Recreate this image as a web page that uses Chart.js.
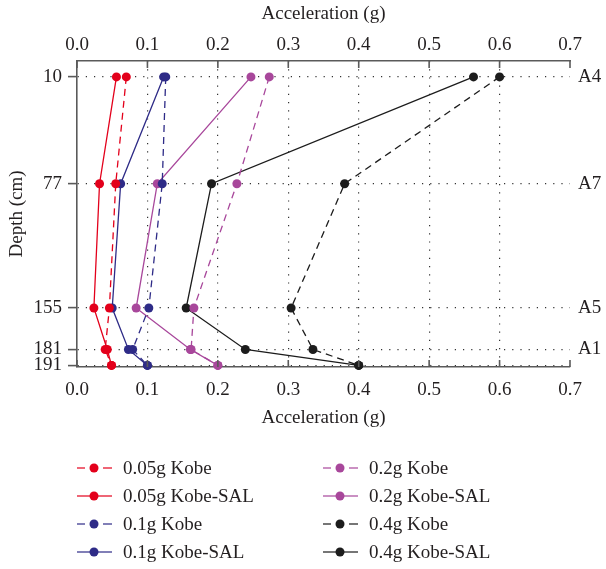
<!DOCTYPE html>
<html>
<head>
<meta charset="utf-8">
<script src="https://cdn.jsdelivr.net/npm/chart.js@4/dist/chart.umd.min.js"></script>
<style>
  html, body { margin: 0; padding: 0; background: #fff; }
  #wrap { width: 606px; height: 569px; }
</style>
</head>
<body>
<div id="wrap"><canvas id="myChart" width="606" height="569"></canvas></div>
<script>
const ctx = document.getElementById('myChart');

// depth of each accelerometer (cm) and the sensor names on the right
const depths = [10, 77, 155, 181, 191];
const sensorDepths = [10, 77, 155, 181];
const sensorNames = ['A4', 'A7', 'A5', 'A1'];
const accTicks = [0, 0.1, 0.2, 0.3, 0.4, 0.5, 0.6, 0.7];

// peak acceleration (g) at each depth
const kobe005 = [0.070, 0.055, 0.046, 0.040, 0.049];
const sal005 = [0.056, 0.032, 0.024, 0.043, 0.049];
const kobe01 = [0.126, 0.121, 0.102, 0.079, 0.100];
const sal01 = [0.123, 0.062, 0.050, 0.073, 0.100];
const kobe02 = [0.273, 0.227, 0.166, 0.162, 0.200];
const sal02 = [0.247, 0.114, 0.084, 0.161, 0.200];
const kobe04 = [0.600, 0.380, 0.304, 0.335, 0.400];
const sal04 = [0.563, 0.191, 0.155, 0.239, 0.400];

const RED = '#e3001b';
const BLUE = '#2e2b87';
const PURPLE = '#a8479b';
const BLACK = '#1c1c1c';
const DASH = [7, 5];
const FONT = "'Liberation Serif', 'DejaVu Serif', serif";
const SIZE = 19;
const AXIS = '#5a5a5a';
const TEXT = '#231f20';

function series(label, values, color, dashed) {
  return {
    label: label,
    data: values.map((v, i) => ({ x: v, y: depths[i] })),
    showLine: true,
    borderColor: color,
    backgroundColor: color,
    borderWidth: 1.3,
    borderDash: dashed ? DASH : [],
    pointRadius: 4.5,
    pointBorderWidth: 0,
    pointBackgroundColor: color,
    clip: false
  };
}

const datasets = [
  series('0.05g Kobe', kobe005, RED, true),
  series('0.05g Kobe-SAL', sal005, RED, false),
  series('0.1g Kobe', kobe01, BLUE, true),
  series('0.1g Kobe-SAL', sal01, BLUE, false),
  series('0.2g Kobe', kobe02, PURPLE, true),
  series('0.2g Kobe-SAL', sal02, PURPLE, false),
  series('0.4g Kobe', kobe04, BLACK, true),
  series('0.4g Kobe-SAL', sal04, BLACK, false)
];

// x ticks point into the plot on both top and bottom axes
const innerTicks = {
  id: 'innerTicks',
  afterDraw(chart) {
    const c = chart.ctx;
    const area = chart.chartArea;
    c.save();
    c.strokeStyle = AXIS;
    c.lineWidth = 1.6;
    accTicks.forEach(v => {
      const px = chart.scales.x.getPixelForValue(v);
      c.beginPath();
      c.moveTo(px, area.bottom);
      c.lineTo(px, area.bottom - 7);
      c.moveTo(px, area.top);
      c.lineTo(px, area.top + 7);
      c.stroke();
    });
    c.restore();
  }
};

// two-column legend under the axes
const columnLegend = {
  id: 'columnLegend',
  afterDraw(chart) {
    const c = chart.ctx;
    const cols = [77, 323];
    const rows = [468, 496, 524, 552];
    c.save();
    c.font = SIZE + 'px ' + FONT;
    c.textBaseline = 'middle';
    c.textAlign = 'left';
    chart.data.datasets.forEach((ds, i) => {
      const x0 = cols[Math.floor(i / 4)];
      const y = rows[i % 4];
      const dashed = ds.borderDash.length > 0;
      c.strokeStyle = ds.borderColor;
      c.lineWidth = 1.6;
      c.globalAlpha = 0.8;
      c.beginPath();
      if (dashed) {
        c.moveTo(x0, y); c.lineTo(x0 + 8, y);
        c.moveTo(x0 + 26, y); c.lineTo(x0 + 35, y);
      } else {
        c.moveTo(x0, y); c.lineTo(x0 + 35, y);
      }
      c.stroke();
      c.globalAlpha = 1;
      c.fillStyle = ds.pointBackgroundColor;
      c.beginPath();
      c.arc(x0 + 17, y, 4.5, 0, Math.PI * 2);
      c.fill();
      c.fillStyle = TEXT;
      c.fillText(ds.label, x0 + 46, y + 1);
    });
    c.restore();
  }
};

const myChart = new Chart(ctx, {
    type: 'scatter',
    data: { datasets: datasets },
    plugins: [innerTicks, columnLegend],
    options: {
        responsive: false,
        animation: false,
        layout: { padding: { left: 0, right: 0, top: 0, bottom: 137 } },
        plugins: {
            legend: { display: false },
            tooltip: { enabled: false }
        },
        scales: {
            x: {
                type: 'linear',
                position: 'bottom',
                min: 0,
                max: 0.7,
                afterBuildTicks: s => { s.ticks = accTicks.map(v => ({ value: v })); },
                afterFit: s => { s.height = 65; },
                ticks: {
                    padding: 12,
                    color: TEXT,
                    font: { family: FONT, size: SIZE },
                    callback: v => v.toFixed(1)
                },
                grid: {
                    drawTicks: false,
                    color: c => (c.tick && c.tick.value > 0.05 && c.tick.value < 0.65) ? '#333' : 'rgba(0,0,0,0)',
                    lineWidth: 1.2
                },
                border: { display: true, color: AXIS, width: 1.6, dash: [1.2, 7] },
                title: {
                    display: true,
                    text: 'Acceleration (g)',
                    color: TEXT,
                    font: { family: FONT, size: SIZE },
                    padding: { top: 0, bottom: 3 }
                }
            },
            xTop: {
                type: 'linear',
                position: 'top',
                min: 0,
                max: 0.7,
                afterBuildTicks: s => { s.ticks = accTicks.map(v => ({ value: v })); },
                afterFit: s => { s.height = 61; },
                ticks: {
                    padding: 5,
                    color: TEXT,
                    font: { family: FONT, size: SIZE },
                    callback: v => v.toFixed(1)
                },
                grid: { display: false, drawTicks: false },
                border: { display: true, color: AXIS, width: 1.6 },
                title: {
                    display: true,
                    text: 'Acceleration (g)',
                    color: TEXT,
                    font: { family: FONT, size: SIZE },
                    padding: { top: 3, bottom: 0 }
                }
            },
            y: {
                type: 'linear',
                position: 'left',
                reverse: true,
                min: 0,
                max: 192,
                afterBuildTicks: s => { s.ticks = depths.map(v => ({ value: v })); },
                afterFit: s => { s.width = 77; },
                ticks: {
                    autoSkip: false,
                    padding: 6,
                    color: TEXT,
                    font: { family: FONT, size: SIZE }
                },
                grid: {
                    color: '#333',
                    lineWidth: 1.2,
                    tickLength: 9,
                    tickColor: AXIS,
                    tickWidth: 1.6,
                    tickBorderDash: []
                },
                border: { display: true, color: AXIS, width: 1.6, dash: [1.2, 7] },
                title: {
                    display: true,
                    text: 'Depth (cm)',
                    color: TEXT,
                    font: { family: FONT, size: SIZE },
                    padding: { top: 6, bottom: 0 }
                }
            },
            yRight: {
                type: 'linear',
                position: 'right',
                reverse: true,
                min: 0,
                max: 192,
                afterBuildTicks: s => { s.ticks = sensorDepths.map(v => ({ value: v })); },
                afterFit: s => { s.width = 36; },
                ticks: {
                    autoSkip: false,
                    padding: 8,
                    color: TEXT,
                    font: { family: FONT, size: SIZE },
                    callback: v => sensorNames[sensorDepths.indexOf(v)]
                },
                grid: { display: false, drawTicks: false },
                border: { display: false }
            }
        }
    }
});
</script>
</body>
</html>
